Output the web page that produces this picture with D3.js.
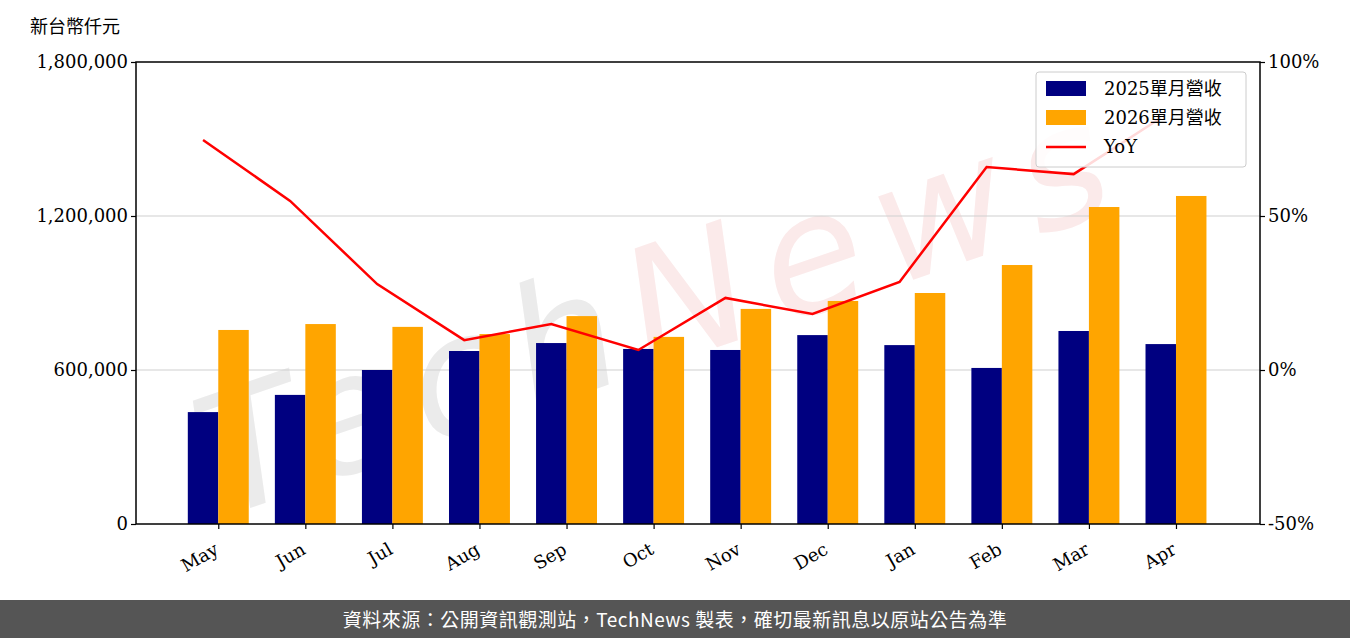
<!DOCTYPE html>
<html><head><meta charset="utf-8">
<script src="https://cdn.jsdelivr.net/npm/d3@7"></script>
<style>body{margin:0;background:#fff}svg{display:block}</style>
</head><body>
<svg id="chart" width="1350" height="638"></svg>
<script>
var months = ["May","Jun","Jul","Aug","Sep","Oct","Nov","Dec","Jan","Feb","Mar","Apr"];
var rev2025 = [436000,503000,600000,674000,705000,682000,678000,736000,697000,608000,752000,701000];
var rev2026 = [756000,779000,768000,740000,810000,729000,838000,869000,900000,1009000,1235000,1278000];
var yoy = [74.7,54.9,27.9,9.7,14.9,6.5,23.4,18.2,28.6,65.9,63.6,81.8];
var leftTicks = [0,600000,1200000,1800000];
var rightTicks = [-50,0,50,100];

var svg = d3.select("#chart");
var margins = {left:136,right:90,top:62,bottom:114};
var W = 1350, H = 638;
var font = "'DejaVu Serif','Noto Sans CJK TC',serif";

var x = d3.scaleLinear().domain([-0.77,12.14]).range([margins.left,W-margins.right]);
var y = d3.scaleLinear().domain([0,1800000]).range([H-margins.bottom,margins.top]);
var y2 = d3.scaleLinear().domain([-50,100]).range([H-margins.bottom,margins.top]);
var bw = x(0.35)-x(0);

// watermark
svg.append("text").attr("x",680).attr("y",360)
  .attr("transform","rotate(-19,680,360)")
  .attr("text-anchor","middle").attr("font-family","'DejaVu Sans',sans-serif")
  .attr("font-style","italic").attr("font-size",165).attr("letter-spacing",18)
  .selectAll("tspan").data([["Tech","#ebebeb"],["News","#fbeaea"]]).enter()
  .append("tspan").attr("fill",function(d){return d[1];}).text(function(d){return d[0];});

// grid
svg.append("g").selectAll("line").data([600000,1200000]).enter().append("line")
  .attr("x1",margins.left).attr("x2",W-margins.right)
  .attr("y1",function(d){return y(d);}).attr("y2",function(d){return y(d);})
  .attr("stroke","#d0d0d0").attr("stroke-width",1.2);

svg.append("g").selectAll("rect").data(rev2025).enter().append("rect")
  .attr("x",function(d,i){return x(i)-bw/2;}).attr("width",bw)
  .attr("y",function(d){return y(d);}).attr("height",function(d){return y(0)-y(d);})
  .attr("fill","#000080");
svg.append("g").selectAll("rect").data(rev2026).enter().append("rect")
  .attr("x",function(d,i){return x(i+0.35)-bw/2;}).attr("width",bw)
  .attr("y",function(d){return y(d);}).attr("height",function(d){return y(0)-y(d);})
  .attr("fill","#ffa500");

svg.append("path").datum(yoy)
  .attr("d",d3.line().x(function(d,i){return x(i);}).y(function(d){return y2(d);}))
  .attr("fill","none").attr("stroke","#ff0000").attr("stroke-width",2.5);

// axes
var gl = svg.append("g").attr("transform","translate("+margins.left+",0)")
  .call(d3.axisLeft(y).tickValues(leftTicks).tickFormat(d3.format(",")).tickSizeOuter(0).tickSize(5));
var gr = svg.append("g").attr("transform","translate("+(W-margins.right)+",0)")
  .call(d3.axisRight(y2).tickValues(rightTicks).tickFormat(function(d){return d+"%";}).tickSizeOuter(0).tickSize(5));
var gb = svg.append("g").attr("transform","translate(0,"+(H-margins.bottom)+")")
  .call(d3.axisBottom(x).tickValues(d3.range(12).map(function(i){return i+0.175;}))
    .tickFormat(function(d){return months[Math.round(d-0.175)];}).tickSizeOuter(0).tickSize(5));
[gl,gr,gb].forEach(function(g){
  g.selectAll("text").attr("font-family",font).attr("font-size",18).attr("fill","#000");
  g.selectAll("line,path").attr("stroke","#000").attr("stroke-width",1.2);
  g.select(".domain").remove();
});
gb.selectAll("text").attr("text-anchor","end").attr("dy",0)
  .attr("transform","translate(-3,22) rotate(-30)");
svg.append("rect").attr("x",margins.left).attr("y",margins.top)
  .attr("width",W-margins.left-margins.right).attr("height",H-margins.top-margins.bottom)
  .attr("fill","none").attr("stroke","#000").attr("stroke-width",1.5);

svg.append("text").attr("x",30).attr("y",33).attr("font-family","'Noto Sans CJK TC',sans-serif")
  .attr("font-size",18).text("新台幣仟元");

// legend
var lg = svg.append("g").attr("transform","translate(1036,72)");
lg.append("rect").attr("width",210).attr("height",95).attr("rx",3)
  .attr("fill","#fff").attr("fill-opacity",0.85).attr("stroke","#ccc");
var items = [["2025單月營收","#000080","bar"],["2026單月營收","#ffa500","bar"],["YoY","#ff0000","line"]];
items.forEach(function(it,i){
  var cy = 17+i*29;
  if(it[2]=="bar") lg.append("rect").attr("x",10).attr("y",cy-8).attr("width",40).attr("height",15).attr("fill",it[1]);
  else lg.append("line").attr("x1",10).attr("x2",50).attr("y1",cy).attr("y2",cy).attr("stroke",it[1]).attr("stroke-width",2.5);
  lg.append("text").attr("x",68).attr("y",cy+6).attr("font-family",font).attr("font-size",18).text(it[0]);
});

// footer
svg.append("rect").attr("x",0).attr("y",600).attr("width",W).attr("height",38).attr("fill","#555");
svg.append("text").attr("x",W/2).attr("y",627).attr("text-anchor","middle").attr("fill","#fff")
  .attr("font-family","'Noto Sans CJK TC',sans-serif").attr("font-size",19).attr("letter-spacing",0.5)
  .text("資料來源：公開資訊觀測站，TechNews 製表，確切最新訊息以原站公告為準");
</script>
</body></html>
